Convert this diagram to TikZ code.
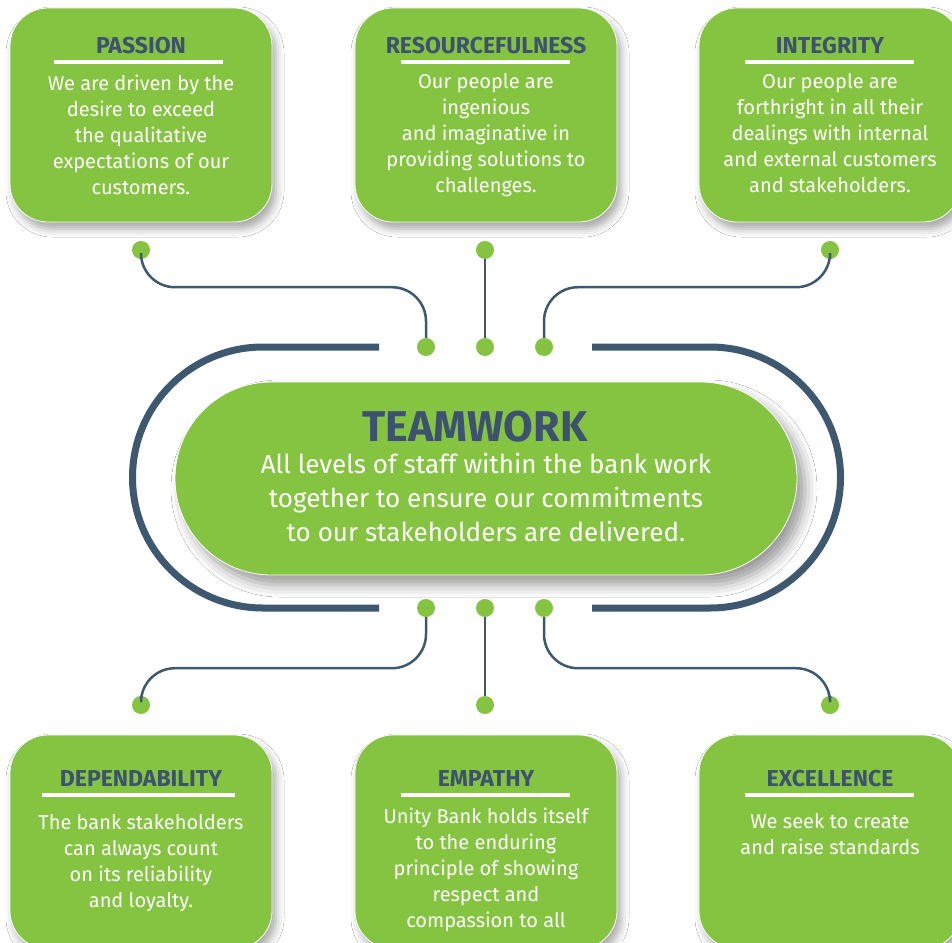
\documentclass[tikz,border=0pt]{standalone}
\usepackage{fontspec}
\setmainfont{Fira Sans}
\usetikzlibrary{shadows.blur,calc}
\definecolor{grn}{HTML}{85C441}
\definecolor{navy}{HTML}{3E5870}
\definecolor{ttl}{HTML}{3D5270}
\tikzset{
 card/.style={draw=white, line width=0.8pt, fill=grn, rounded corners=38pt, minimum width=262pt, minimum height=214pt, inner sep=0pt,
   blur shadow={shadow xshift=4pt,shadow yshift=-7pt,shadow blur radius=8pt,shadow opacity=35}},
 cardtitle/.style={anchor=base, text=ttl, font=\bfseries\fontsize{23}{26}\selectfont, inner sep=0pt},
 cardbody/.style={anchor=base, text=white, align=center, font=\fontsize{20}{26}\selectfont, inner sep=0pt},
 cardrule/.style={draw=white, line width=4pt},
 dot/.style={circle, fill=grn, minimum size=18pt, inner sep=0pt},
 conn/.style={draw=navy, line width=2.5pt, rounded corners=34pt},
 track/.style={draw=navy, line width=7pt},
 pill/.style={draw=white, line width=0.8pt, fill=grn, rounded corners=96.5pt, minimum width=622pt, minimum height=193pt, inner sep=0pt,
   blur shadow={shadow xshift=8pt,shadow yshift=-10pt,shadow blur radius=12pt,shadow opacity=40}},
}
\begin{document}
\begin{tikzpicture}[x=1pt,y=1pt]
\useasboundingbox (0,0) rectangle (952,-942);
\clip (0,0) rectangle (952,-942);
\fill[white] (0,0) rectangle (952,-942);

% top cards
\node[card] (c1) at (141,-115) {};
\node[card] (c2) at (486,-115) {};
\node[card] (c3) at (830,-115) {};
\node[cardtitle] (h1) at (141,-53) {PASSION};
\node[cardtitle] (h2) at (486,-53) {RESOURCEFULNESS};
\node[cardtitle] (h3) at (830,-53) {INTEGRITY};
\draw[cardrule] (54,-62) -- (223,-62);
\draw[cardrule] (401,-62) -- (570,-62);
\draw[cardrule] (745,-62) -- (914,-62);
% anchor=base of a multi-line node = baseline of its last line
\node[cardbody] (p1) at (141,-194) {We are driven by the\\desire to exceed\\the qualitative\\expectations of our\\customers.};
\node[cardbody] (p2) at (486,-192) {Our people are\\ingenious\\and imaginative in\\providing solutions to\\challenges.};
\node[cardbody] (p3) at (830,-192) {Our people are\\forthright in all their\\dealings with internal\\and external customers\\and stakeholders.};

% bottom cards
\node[card] (c4) at (141,-842) {};
\node[card] (c5) at (486,-842) {};
\node[card] (c6) at (830,-842) {};
\node[cardtitle] (h4) at (141,-786) {DEPENDABILITY};
\node[cardtitle] (h5) at (486,-786) {EMPATHY};
\node[cardtitle] (h6) at (830,-786) {EXCELLENCE};
\draw[cardrule] (42,-795) -- (235,-795);
\draw[cardrule] (401,-795) -- (570,-795);
\draw[cardrule] (745,-795) -- (914,-795);
\node[cardbody] (p4) at (141,-907) {The bank stakeholders\\can always count\\on its reliability\\and loyalty.};
\node[cardbody] (p5) at (486,-927) {Unity Bank holds itself\\to the enduring\\principle of showing\\respect and\\compassion to all};
\node[cardbody] (p6) at (830,-854) {We seek to create\\and raise standards};

% track around centre
\draw[track] (379,-347) -- (263,-347) arc[start angle=90, end angle=270, radius=130.5] -- (379,-608);
\draw[track] (592,-347) -- (710,-347) arc[start angle=90, end angle=-90, radius=130.5] -- (592,-608);

% centre pill
\node[pill] (core) at (486,-478.5) {};
\node[anchor=base, inner sep=0pt, text=ttl, font=\bfseries\fontsize{43}{46}\selectfont] (ct) at (475,-441) {TEAMWORK};
\node[anchor=base, inner sep=0pt, text=white, align=center, font=\fontsize{26}{34}\selectfont] (cb) at (486,-541)
  {All levels of staff within the bank work\\together to ensure our commitments\\to our stakeholders are delivered.};

% dots
\node[dot] (t1) at (141,-250) {};
\node[dot] (t2) at (485,-250) {};
\node[dot] (t3) at (830,-250) {};
\node[dot] (i1) at (426,-347) {};
\node[dot] (i2) at (485,-347) {};
\node[dot] (i3) at (544,-347) {};
\node[dot] (j1) at (426,-608) {};
\node[dot] (j2) at (485,-608) {};
\node[dot] (j3) at (544,-608) {};
\node[dot] (b1) at (141,-705) {};
\node[dot] (b2) at (485,-705) {};
\node[dot] (b3) at (830,-705) {};

% connectors
\draw[conn] (t1.south) -- ++(0,-28) -| (i1.north);
\draw[conn] (t2.south) -- (i2.north);
\draw[conn] (t3.south) -- ++(0,-28) -| (i3.north);
\draw[conn] (j1.south) -- ++(0,-51) -| (b1.north);
\draw[conn] (j2.south) -- (b2.north);
\draw[conn] (j3.south) -- ++(0,-51) -| (b3.north);
\end{tikzpicture}
\end{document}
